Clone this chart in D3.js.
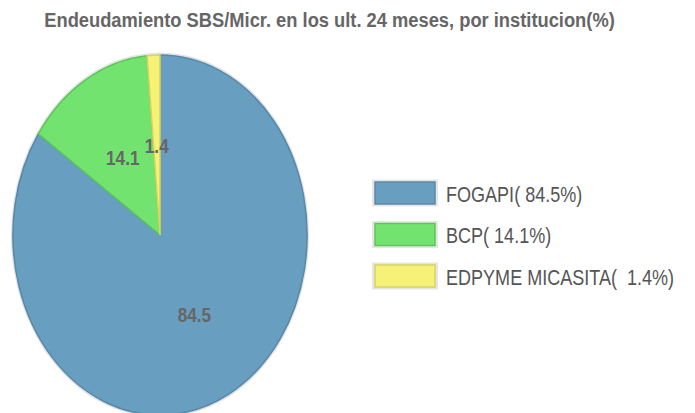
<!DOCTYPE html>
<html>
<head>
<meta charset="utf-8">
<script src="https://cdn.jsdelivr.net/npm/d3@7/dist/d3.min.js"></script>
<style>
  body { margin: 0; background: #fff; }
  svg { display: block; font-family: "Liberation Sans", Arial, sans-serif; }
</style>
</head>
<body>
<div id="chart"></div>
<script>
// Data
const categories = ['FOGAPI', 'BCP', 'EDPYME MICASITA'];
const values = [84.5, 14.1, 1.4];
const legendLabels = ['FOGAPI( 84.5%)', 'BCP( 14.1%)', 'EDPYME MICASITA(  1.4%)'];
const fills = ['#689fc1', '#73e36f', '#f5f277'];
const strokes = ['#5889a9', '#5cc659', '#d9d45c'];

const width = 695, height = 413;
const sx = 0.817;            // the whole picture is squeezed horizontally
const cx = 160, cy = 235, r = 180;

const svg = d3.select('#chart').append('svg')
    .attr('width', width)
    .attr('height', height);

// Title, condensed to the width seen in the reference (44..615)
const title = svg.append('text')
    .attr('text-anchor', 'middle')
    .attr('font-size', 21)
    .attr('font-weight', 'bold')
    .attr('fill', '#666')
    .text('Endeudamiento SBS/Micr. en los ult. 24 meses, por institucion(%)');
const titleW = title.node().getComputedTextLength();
title.attr('transform', `translate(329.5,27) scale(${571 / titleW},1)`);

// Pie
const pieG = svg.append('g')
    .attr('transform', `translate(${cx},${cy}) scale(${sx},1)`);

pieG.append('circle')
    .attr('r', r + 2.5)
    .attr('fill', '#e4e4e4');

const pie = d3.pie().sort(null).value(d => d)(values);
const arc = d3.arc().innerRadius(0).outerRadius(r);
const labelArc = d3.arc().innerRadius(r * 0.5).outerRadius(r * 0.5);

pieG.selectAll('path.slice')
    .data(pie)
    .enter()
    .append('path')
    .attr('class', 'slice')
    .attr('d', arc)
    .attr('fill', (d, i) => fills[i])
    .attr('stroke', (d, i) => strokes[i])
    .attr('stroke-width', 1.6)
    .attr('vector-effect', 'non-scaling-stroke');

pieG.selectAll('text.lbl')
    .data(pie)
    .enter()
    .append('text')
    .attr('class', 'lbl')
    .attr('transform', d => {
        const [x, y] = labelArc.centroid(d);
        return `translate(${x},${y}) scale(${1 / sx},1) scale(0.82,1)`;
    })
    .attr('text-anchor', 'middle')
    .attr('dy', '0.36em')
    .attr('font-size', 21)
    .attr('font-weight', 'bold')
    .attr('fill', '#666')
    .text(d => d.data.toFixed(1));

// Legend
const legend = svg.append('g');
const rowY = d3.scalePoint().domain(categories).range([193, 276]);

const row = legend.selectAll('g.row')
    .data(categories)
    .enter()
    .append('g')
    .attr('class', 'row')
    .attr('transform', d => `translate(0,${rowY(d)})`);

row.append('rect')
    .attr('x', 372)
    .attr('y', -13.5)
    .attr('width', 66)
    .attr('height', 27)
    .attr('fill', '#e6e6e6');

row.append('rect')
    .attr('x', 375)
    .attr('y', -11)
    .attr('width', 60)
    .attr('height', 22)
    .attr('fill', (d, i) => fills[i])
    .attr('stroke', (d, i) => strokes[i])
    .attr('stroke-width', 1.5);

row.append('text')
    .attr('transform', 'translate(446,8.5) scale(0.82,1)')
    .attr('font-size', 22)
    .attr('fill', '#555')
    .style('white-space', 'pre')
    .text((d, i) => legendLabels[i]);
</script>
</body>
</html>
